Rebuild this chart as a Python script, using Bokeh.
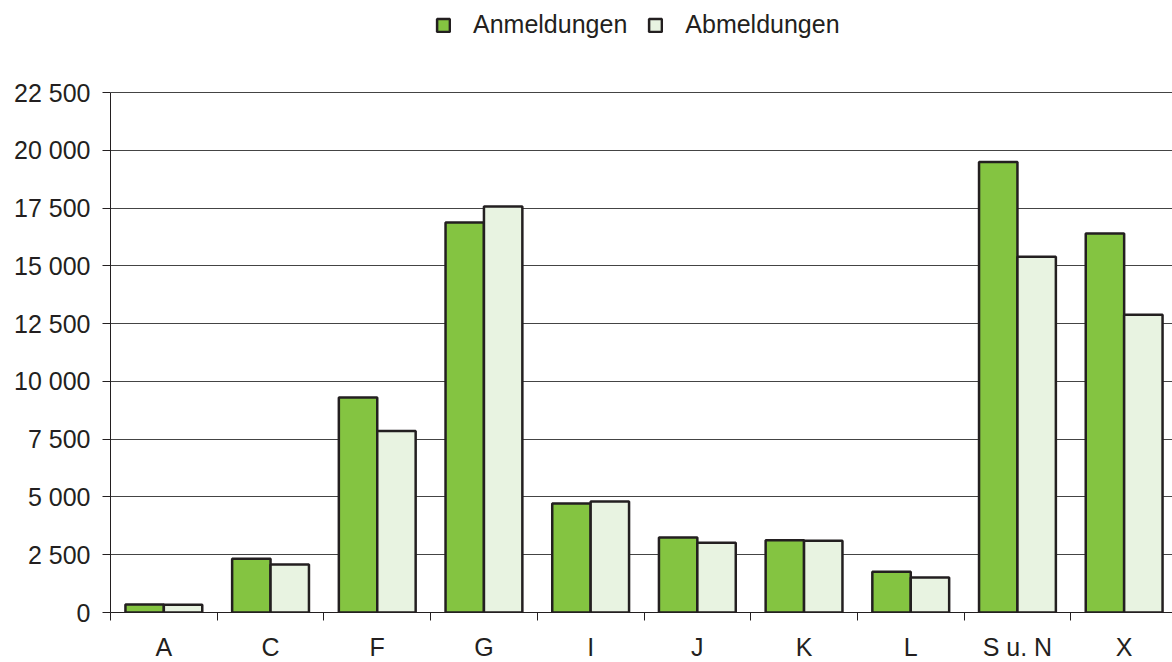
from bokeh.plotting import figure
from bokeh.models import (ColumnDataSource, Range1d, FixedTicker, Legend, LegendItem)
from bokeh.embed import file_html
from bokeh.resources import INLINE

# ---- data ----
categories = ["A", "C", "F", "G", "I", "J", "K", "L", "S u. N", "X"]
anmeldungen = [350, 2330, 9300, 16880, 4720, 3240, 3130, 1760, 19490, 16400]
abmeldungen = [330, 2080, 7850, 17570, 4800, 3020, 3100, 1510, 15390, 12880]
y_ticks = [0, 2500, 5000, 7500, 10000, 12500, 15000, 17500, 20000, 22500]
y_tick_labels = ["0", "2 500", "5 000", "7 500", "10 000", "12 500",
                 "15 000", "17 500", "20 000", "22 500"]
series_names = ["Anmeldungen", "Abmeldungen"]

# ---- style ----
GREEN = "#84c441"
LIGHT = "#e8f3e1"
EDGE = "#231f20"
GRID = "#444444"
FONT = "Liberation Sans"
FS = "25px"

n = len(categories)
cat_px = 106.7
frame_w = 1062
frame_h = 612          # frame spans from page top to the zero line
axis_px = 520          # pixels used by 0 .. 22 500
y_max = y_ticks[-1]

idx = list(range(n))
src = ColumnDataSource(dict(
    x_anm=[i + 0.32 for i in idx],
    x_abm=[i + 0.68 for i in idx],
    anm=anmeldungen,
    abm=abmeldungen,
))

p = figure(frame_width=frame_w, frame_height=frame_h,
           x_range=Range1d(0, frame_w / cat_px),
           y_range=Range1d(0, y_max * frame_h / axis_px),
           output_backend="svg", toolbar_location=None,
           min_border_left=110, min_border_right=0, min_border_top=0,
           min_border_bottom=49)
p.outline_line_color = None
p.background_fill_color = "white"

r1 = p.vbar(x="x_anm", top="anm", width=0.36, source=src, fill_color=GREEN,
            line_color=EDGE, line_width=2.5)
r2 = p.vbar(x="x_abm", top="abm", width=0.36, source=src, fill_color=LIGHT,
            line_color=EDGE, line_width=2.5)

# y axis
p.yaxis.bounds = (0, y_max)
p.yaxis.ticker = FixedTicker(ticks=y_ticks)
p.yaxis.major_label_overrides = {t: l for t, l in zip(y_ticks, y_tick_labels)}
p.yaxis.major_label_text_font = FONT
p.yaxis.major_label_text_font_size = FS
p.yaxis.major_label_text_color = EDGE
p.yaxis.major_label_standoff = 12
p.yaxis.major_tick_out = 8
p.yaxis.major_tick_in = 0
p.yaxis.minor_tick_line_color = None
p.yaxis.axis_line_color = EDGE
p.yaxis.major_tick_line_color = EDGE

# x axis: labels at category centres, tick marks at category boundaries
centers = [i + 0.5 for i in idx]
p.xaxis.ticker = FixedTicker(ticks=centers, minor_ticks=list(range(n + 1)))
p.xaxis.major_label_overrides = {c: cat for c, cat in zip(centers, categories)}
p.xaxis.major_label_text_font = FONT
p.xaxis.major_label_text_font_size = FS
p.xaxis.major_label_text_color = EDGE
p.xaxis.major_label_standoff = 12
p.xaxis.major_tick_line_color = None
p.xaxis.major_tick_out = 8
p.xaxis.major_tick_in = 0
p.xaxis.minor_tick_out = 8
p.xaxis.minor_tick_in = 0
p.xaxis.minor_tick_line_color = EDGE
p.xaxis.axis_line_color = EDGE

p.xgrid.grid_line_color = None
p.ygrid.ticker = FixedTicker(ticks=y_ticks)
p.ygrid.grid_line_color = GRID
p.ygrid.grid_line_width = 1

legend = Legend(items=[LegendItem(label=series_names[0], renderers=[r1]),
                       LegendItem(label=series_names[1], renderers=[r2])],
                orientation="horizontal", location=(325, 573),
                glyph_width=16, glyph_height=16, label_standoff=22, spacing=20,
                padding=0, margin=0, border_line_color=None,
                background_fill_alpha=0, label_text_font=FONT,
                label_text_font_size=FS, label_text_color=EDGE)
p.add_layout(legend, "center")

open("out.html", "w").write(file_html(p, INLINE))
